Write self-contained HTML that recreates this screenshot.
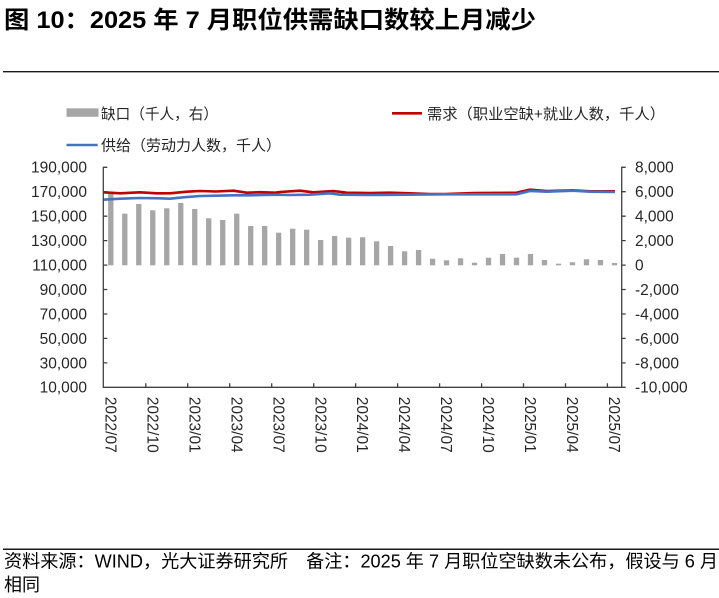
<!DOCTYPE html>
<html>
<head>
<meta charset="utf-8">
<style>
html,body{margin:0;padding:0;background:#fff;}
svg{display:block;}
text{font-family:"Liberation Sans","Noto Sans CJK SC",sans-serif;}
</style>
</head>
<body>
<svg width="719" height="598" viewBox="0 0 719 598" xmlns="http://www.w3.org/2000/svg">
<rect width="719" height="598" fill="#fff"/>
<!-- Title -->
<text x="4" y="28" font-size="24" font-weight="bold" fill="#000" textLength="532" lengthAdjust="spacingAndGlyphs" style='font-family:"Liberation Sans","Noto Sans CJK SC",sans-serif'>图 10：2025 年 7 月职位供需缺口数较上月减少</text>
<line x1="3" y1="71.7" x2="719" y2="71.7" stroke="#1a1a1a" stroke-width="1.4"/>

<!-- Legend -->
<rect x="66.5" y="108.3" width="32" height="8.5" fill="#a6a6a6"/>
<text x="101" y="118.8" font-size="15" fill="#262626" textLength="117" lengthAdjust="spacingAndGlyphs">缺口（千人，右）</text>
<line x1="392" y1="113.3" x2="422" y2="113.3" stroke="#c00000" stroke-width="2.6"/>
<text x="427" y="118.8" font-size="15" fill="#262626" textLength="238" lengthAdjust="spacingAndGlyphs">需求（职业空缺+就业人数，千人）</text>
<line x1="66.5" y1="145" x2="97.7" y2="145" stroke="#4472c4" stroke-width="2.6"/>
<text x="101" y="150.5" font-size="15" fill="#262626" textLength="180" lengthAdjust="spacingAndGlyphs">供给（劳动力人数，千人）</text>

<!-- Bars -->
<g fill="#a6a6a6">
<rect x="108.15" y="194" width="5.3" height="71.3"/>
<rect x="122.14" y="213.7" width="5.3" height="51.6"/>
<rect x="136.13" y="204" width="5.3" height="61.3"/>
<rect x="150.12" y="210.3" width="5.3" height="55"/>
<rect x="164.11" y="208.3" width="5.3" height="57"/>
<rect x="178.10" y="203" width="5.3" height="62.3"/>
<rect x="192.09" y="209" width="5.3" height="56.3"/>
<rect x="206.08" y="218.3" width="5.3" height="47"/>
<rect x="220.07" y="220" width="5.3" height="45.3"/>
<rect x="234.06" y="213.7" width="5.3" height="51.6"/>
<rect x="248.05" y="226" width="5.3" height="39.3"/>
<rect x="262.04" y="226" width="5.3" height="39.3"/>
<rect x="276.03" y="232.7" width="5.3" height="32.6"/>
<rect x="290.02" y="228.7" width="5.3" height="36.6"/>
<rect x="304.01" y="229.7" width="5.3" height="35.6"/>
<rect x="318.00" y="240" width="5.3" height="25.3"/>
<rect x="331.99" y="236" width="5.3" height="29.3"/>
<rect x="345.98" y="237.7" width="5.3" height="27.6"/>
<rect x="359.97" y="237.3" width="5.3" height="28"/>
<rect x="373.96" y="241.3" width="5.3" height="24"/>
<rect x="387.95" y="246" width="5.3" height="19.3"/>
<rect x="401.94" y="251.3" width="5.3" height="14"/>
<rect x="415.93" y="250" width="5.3" height="15.3"/>
<rect x="429.92" y="258.7" width="5.3" height="6.6"/>
<rect x="443.91" y="260.3" width="5.3" height="5"/>
<rect x="457.90" y="258.3" width="5.3" height="7"/>
<rect x="471.89" y="262.7" width="5.3" height="2.6"/>
<rect x="485.88" y="257.7" width="5.3" height="7.6"/>
<rect x="499.87" y="254" width="5.3" height="11.3"/>
<rect x="513.86" y="257.7" width="5.3" height="7.6"/>
<rect x="527.85" y="254" width="5.3" height="11.3"/>
<rect x="541.84" y="260" width="5.3" height="5.3"/>
<rect x="555.83" y="263.7" width="5.3" height="1.6"/>
<rect x="569.82" y="262.3" width="5.3" height="3"/>
<rect x="583.81" y="259.3" width="5.3" height="6"/>
<rect x="597.80" y="260" width="5.3" height="5.3"/>
<rect x="611.79" y="263" width="5.3" height="2.3"/>
</g>

<!-- Lines -->
<polyline fill="none" stroke="#c00000" stroke-width="2.6" stroke-linejoin="round" points="103.3,192.3 120,193.3 140,192.3 156.7,193.3 170,193.3 186.7,191.7 200,191 216,191.5 233.3,190.7 246.7,192.7 260,192.2 275,192.7 280,192 300,190.7 313.3,192.3 333.3,191 346.7,192.7 370,193 390,192.7 410,193.3 430,194 445,194 473.3,193 516.7,192.7 530,189.7 546.7,191 573.3,190.3 590,191.3 615,191.3"/>
<polyline fill="none" stroke="#4472c4" stroke-width="2.6" stroke-linejoin="round" points="103.3,199.7 120,198.7 140,198 160,198.3 170,198.7 183.3,197.3 200,196 216,195.7 233.3,195.3 250,195.3 275,194.7 290,195 310,194.7 330,193.3 340,194.7 370,195 403.3,194.7 445,194.3 516.7,194.3 530,191 546.7,191.7 573.3,190.7 590,191.7 615,192"/>

<!-- Axes -->
<g stroke="#404040" stroke-width="1.3" fill="none">
<line x1="103.3" y1="166.7" x2="103.3" y2="387.3"/>
<line x1="621.7" y1="166.7" x2="621.7" y2="387.3"/>
<line x1="102.7" y1="387.3" x2="622.3" y2="387.3"/>
<!-- left ticks -->
<path d="M103.3 167.3h4M103.3 191.7h4M103.3 216.2h4M103.3 240.6h4M103.3 265.1h4M103.3 289.5h4M103.3 314h4M103.3 338.4h4M103.3 362.9h4"/>
<!-- right ticks -->
<path d="M621.7 167.3h4M621.7 191.7h4M621.7 216.2h4M621.7 240.6h4M621.7 265.1h4M621.7 289.5h4M621.7 314h4M621.7 338.4h4M621.7 362.9h4M621.7 387.3h4"/>
<!-- x ticks -->
<path d="M145.8 387.3v-4M187.7 387.3v-4M229.7 387.3v-4M271.7 387.3v-4M313.7 387.3v-4M355.6 387.3v-4M397.6 387.3v-4M439.6 387.3v-4M481.6 387.3v-4M523.5 387.3v-4M565.5 387.3v-4M607.4 387.3v-4"/>
</g>

<!-- Left labels -->
<g font-size="15.5" fill="#262626" text-anchor="end">
<text x="87" y="172.7">190,000</text>
<text x="87" y="197.1">170,000</text>
<text x="87" y="221.6">150,000</text>
<text x="87" y="246">130,000</text>
<text x="87" y="270.5">110,000</text>
<text x="87" y="294.9">90,000</text>
<text x="87" y="319.4">70,000</text>
<text x="87" y="343.8">50,000</text>
<text x="87" y="368.3">30,000</text>
<text x="87" y="392.7">10,000</text>
</g>
<!-- Right labels -->
<g font-size="15.5" fill="#262626">
<text x="635" y="172.7">8,000</text>
<text x="635" y="197.1">6,000</text>
<text x="635" y="221.6">4,000</text>
<text x="635" y="246">2,000</text>
<text x="635" y="270.5">0</text>
<text x="635" y="294.9">-2,000</text>
<text x="635" y="319.4">-4,000</text>
<text x="635" y="343.8">-6,000</text>
<text x="635" y="368.3">-8,000</text>
<text x="635" y="392.7">-10,000</text>
</g>
<!-- X labels -->
<g font-size="15.5" fill="#262626">
<text transform="translate(105.4 396.7) rotate(90)">2022/07</text>
<text transform="translate(147.4 396.7) rotate(90)">2022/10</text>
<text transform="translate(189.3 396.7) rotate(90)">2023/01</text>
<text transform="translate(231.3 396.7) rotate(90)">2023/04</text>
<text transform="translate(273.3 396.7) rotate(90)">2023/07</text>
<text transform="translate(315.3 396.7) rotate(90)">2023/10</text>
<text transform="translate(357.2 396.7) rotate(90)">2024/01</text>
<text transform="translate(399.2 396.7) rotate(90)">2024/04</text>
<text transform="translate(441.2 396.7) rotate(90)">2024/07</text>
<text transform="translate(483.1 396.7) rotate(90)">2024/10</text>
<text transform="translate(525.1 396.7) rotate(90)">2025/01</text>
<text transform="translate(567.1 396.7) rotate(90)">2025/04</text>
<text transform="translate(609.0 396.7) rotate(90)">2025/07</text>
</g>

<!-- Footer -->
<line x1="3" y1="549.3" x2="719" y2="549.3" stroke="#1a1a1a" stroke-width="1.5"/>
<text x="4" y="567.5" font-size="18" fill="#000" textLength="714" lengthAdjust="spacingAndGlyphs">资料来源：WIND，光大证券研究所　备注：2025 年 7 月职位空缺数未公布，假设与 6 月</text>
<text x="4" y="591" font-size="18" fill="#000">相同</text>
</svg>
</body>
</html>
